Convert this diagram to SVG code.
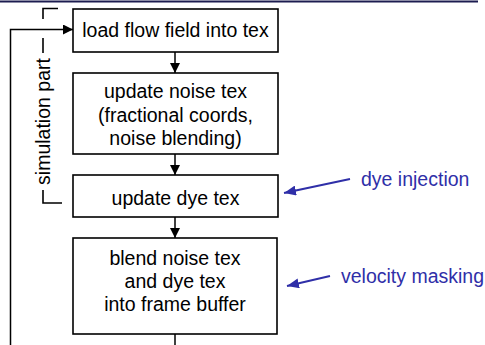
<svg xmlns="http://www.w3.org/2000/svg" width="485" height="345" viewBox="0 0 485 345">
  <defs>
    <marker id="arrowBlack" viewBox="0 0 10 10" refX="10" refY="5" markerWidth="10" markerHeight="10" markerUnits="userSpaceOnUse" orient="auto">
      <path d="M0,0 L10,5 L0,10 z" fill="#000"/>
    </marker>
    <marker id="arrowBlue" viewBox="0 0 12 10" refX="12" refY="5" markerWidth="12" markerHeight="10" markerUnits="userSpaceOnUse" orient="auto">
      <path d="M0,0 L12,5 L0,10 z" fill="#2f2fa8"/>
    </marker>
    <style>
      .box { fill: #fff; stroke: #000; stroke-width: 1.6; }
      .lbl { font-family: "Liberation Sans", Arial, sans-serif; font-size: 19.5px; fill: #000; text-anchor: middle; }
      .note { font-family: "Liberation Sans", Arial, sans-serif; font-size: 19.5px; fill: #2f2fa8; }
      .flow { fill: none; stroke: #000; stroke-width: 1.5; }
      .hint { fill: none; stroke: #2f2fa8; stroke-width: 2; }
      .brk { fill: none; stroke: #000; stroke-width: 1.6; }
    </style>
  </defs>

  <!-- header rule -->
  <line x1="0" y1="1.5" x2="478" y2="1.5" stroke="#1c1c50" stroke-width="2"/>

  <!-- pipeline stages -->
  <g id="load">
    <rect class="box" x="73" y="9" width="205" height="43"/>
    <text class="lbl" x="175.5" y="37">load flow field into tex</text>
  </g>
  <g id="noise">
    <rect class="box" x="73" y="73" width="205" height="81"/>
    <text class="lbl" x="175.5" y="98">update noise tex</text>
    <text class="lbl" x="175.5" y="121.5">(fractional coords,</text>
    <text class="lbl" x="175.5" y="145">noise blending)</text>
  </g>
  <g id="dye">
    <rect class="box" x="73" y="175" width="205" height="42"/>
    <text class="lbl" x="175.5" y="205">update dye tex</text>
  </g>
  <g id="blend">
    <rect class="box" x="73" y="238" width="204" height="96"/>
    <text class="lbl" x="175" y="265">blend noise tex</text>
    <text class="lbl" x="175" y="288">and dye tex</text>
    <text class="lbl" x="175" y="310.5">into frame buffer</text>
  </g>

  <!-- simulation part bracket -->
  <g id="simulation">
    <path class="brk" d="M43,19 V8.5 H58"/>
    <path class="brk" d="M43,38 V53"/>
    <path class="brk" d="M43,190 V203 H62"/>
    <text class="lbl" transform="translate(50,121.5) rotate(-90)" x="0" y="0">simulation part</text>
  </g>

  <!-- annotations -->
  <g id="dyeInjection">
    <text class="note" x="361" y="186">dye injection</text>
  </g>
  <g id="velocityMasking">
    <text class="note" x="341" y="283">velocity masking</text>
  </g>

  <!-- connectors -->
  <g id="connectors">
    <line class="flow" x1="175" y1="52" x2="175" y2="73" marker-end="url(#arrowBlack)"/>
    <line class="flow" x1="175" y1="154" x2="175" y2="175" marker-end="url(#arrowBlack)"/>
    <line class="flow" x1="175" y1="217" x2="175" y2="238" marker-end="url(#arrowBlack)"/>
    <line class="flow" x1="175" y1="334" x2="175" y2="345"/>
    <path class="flow" d="M10.5,345 V29.5 H73" marker-end="url(#arrowBlack)"/>
    <line class="hint" x1="350" y1="179" x2="284" y2="193" marker-end="url(#arrowBlue)"/>
    <line class="hint" x1="330" y1="276" x2="287" y2="286" marker-end="url(#arrowBlue)"/>
  </g>
</svg>
